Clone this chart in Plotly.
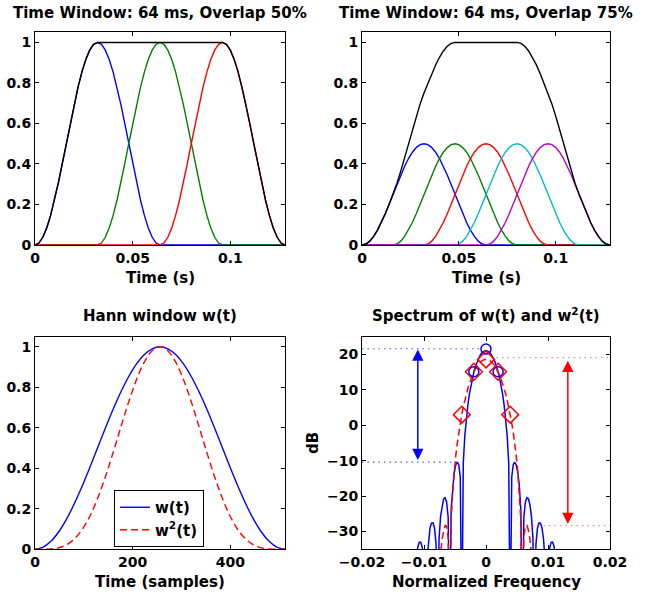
import plotly.graph_objects as go

# ---------------- data ----------------
# one 64 ms Hann window, sampled every 2 ms
hann_t = [0.000, 0.002, 0.004, 0.006, 0.008, 0.010, 0.012, 0.014, 0.016, 0.018, 0.020,
          0.022, 0.024, 0.026, 0.028, 0.030, 0.032, 0.034, 0.036, 0.038, 0.040, 0.042,
          0.044, 0.046, 0.048, 0.050, 0.052, 0.054, 0.056, 0.058, 0.060, 0.062, 0.064]
hann_w = [0.0, 0.0096, 0.0381, 0.0843, 0.1464, 0.2222, 0.3087, 0.4025, 0.5, 0.5975, 0.6913,
          0.7778, 0.8536, 0.9157, 0.9619, 0.9904, 1.0, 0.9904, 0.9619, 0.9157, 0.8536, 0.7778,
          0.6913, 0.5975, 0.5, 0.4025, 0.3087, 0.2222, 0.1464, 0.0843, 0.0381, 0.0096, 0.0]
t_end = 0.128

starts_50 = [0.0, 0.032, 0.064]
gain_50 = 1.0
colors_50 = ["#0000ff", "#008000", "#ff0000"]

starts_75 = [0.0, 0.016, 0.032, 0.048, 0.064]
gain_75 = 0.5
colors_75 = ["#0000ff", "#008000", "#ff0000", "#00bfbf", "#bf00bf"]

env50_t = [0.000, 0.002, 0.004, 0.006, 0.008, 0.010, 0.012, 0.014, 0.016, 0.018, 0.020,
           0.022, 0.024, 0.026, 0.028, 0.030, 0.032,
           0.096, 0.098, 0.100, 0.102, 0.104, 0.106, 0.108, 0.110, 0.112, 0.114, 0.116,
           0.118, 0.120, 0.122, 0.124, 0.126, 0.128]
env50_v = [0.0, 0.0096, 0.0381, 0.0843, 0.1464, 0.2222, 0.3087, 0.4025, 0.5, 0.5975, 0.6913,
           0.7778, 0.8536, 0.9157, 0.9619, 0.9904, 1.0,
           1.0, 0.9904, 0.9619, 0.9157, 0.8536, 0.7778, 0.6913, 0.5975, 0.5, 0.4025, 0.3087,
           0.2222, 0.1464, 0.0843, 0.0381, 0.0096, 0.0]

env75_t = [0.000, 0.002, 0.004, 0.006, 0.008, 0.010, 0.012, 0.014, 0.016, 0.018, 0.020,
           0.022, 0.024, 0.026, 0.028, 0.030, 0.032, 0.034, 0.036, 0.038, 0.040, 0.042,
           0.044, 0.046, 0.048,
           0.080, 0.082, 0.084, 0.086, 0.088, 0.090, 0.092, 0.094, 0.096, 0.098, 0.100,
           0.102, 0.104, 0.106, 0.108, 0.110, 0.112, 0.114, 0.116, 0.118, 0.120, 0.122,
           0.124, 0.126, 0.128]
env75_v = [0.0, 0.0048, 0.0191, 0.0422, 0.0732, 0.1111, 0.1544, 0.2013, 0.25, 0.3036, 0.3647,
           0.4311, 0.5, 0.5690, 0.6353, 0.6965, 0.75, 0.7988, 0.8457, 0.8889, 0.9268, 0.9579,
           0.9810, 0.9952, 1.0,
           1.0, 0.9952, 0.9810, 0.9579, 0.9268, 0.8889, 0.8457, 0.7988, 0.75, 0.6965, 0.6353,
           0.5690, 0.5, 0.4311, 0.3647, 0.3036, 0.25, 0.2013, 0.1544, 0.1111, 0.0732, 0.0422,
           0.0191, 0.0048, 0.0]

# Hann window over 512 samples
samples = [0, 16, 32, 48, 64, 80, 96, 112, 128, 144, 160, 176, 192, 208, 224, 240, 256,
           272, 288, 304, 320, 336, 352, 368, 384, 400, 416, 432, 448, 464, 480, 496, 512]
w_vals = hann_w
w2_vals = [0.0, 0.0001, 0.0015, 0.0071, 0.0214, 0.0494, 0.0953, 0.1620, 0.25, 0.3570, 0.4779,
           0.6050, 0.7286, 0.8385, 0.9253, 0.9809, 1.0, 0.9809, 0.9253, 0.8385, 0.7286, 0.6050,
           0.4779, 0.3570, 0.25, 0.1620, 0.0953, 0.0494, 0.0214, 0.0071, 0.0015, 0.0001, 0.0]

# spectra (dB) against DFT bin of a 512-point frame
fft_len = 512
spec_bins_w = [-6.0, -5.875, -5.75, -5.625, -5.5, -5.375, -5.25, -5.125, -5.0, -4.875, -4.75,
               -4.625, -4.5, -4.375, -4.25, -4.125, -4.0, -3.875, -3.75, -3.625, -3.5, -3.375,
               -3.25, -3.125, -3.0, -2.875, -2.75, -2.625, -2.5, -2.375, -2.25, -2.125, -2.0,
               -1.875, -1.75, -1.625, -1.5, -1.375, -1.25, -1.125, -1.0, -0.875, -0.75, -0.625,
               -0.5, -0.375, -0.25, -0.125, 0.0, 0.125, 0.25, 0.375, 0.5, 0.625, 0.75, 0.875,
               1.0, 1.125, 1.25, 1.375, 1.5, 1.625, 1.75, 1.875, 2.0, 2.125, 2.25, 2.375, 2.5,
               2.625, 2.75, 2.875, 3.0, 3.125, 3.25, 3.375, 3.5, 3.625, 3.75, 3.875, 4.0, 4.125,
               4.25, 4.375, 4.5, 4.625, 4.75, 4.875, 5.0, 5.125, 5.25, 5.375, 5.5, 5.625, 5.75,
               5.875, 6.0]
spec_db_w = [-60, -43.07, -37.17, -34.26, -32.97, -33.05, -34.74, -39.43, -60, -38.09, -32.06,
             -29.02, -27.60, -27.52, -29.06, -33.59, -60, -31.88, -25.65, -22.40, -20.75, -20.43,
             -21.70, -25.94, -60, -23.58, -16.98, -13.32, -11.21, -10.38, -11.07, -14.65, -60,
             -10.66, -3.00, 1.95, 5.70, 8.71, 11.21, 13.31, 15.08, 16.58, 17.83, 18.85,
             19.68, 20.30, 20.75, 21.01, 21.10, 21.01, 20.75, 20.30, 19.68, 18.85, 17.83, 16.58,
             15.08, 13.31, 11.21, 8.71, 5.70, 1.95, -3.00, -10.66, -60, -14.65, -11.07, -10.38,
             -11.21, -13.32, -16.98, -23.58, -60, -25.94, -21.70, -20.43, -20.75, -22.40, -25.65,
             -31.88, -60, -33.59, -29.06, -27.52, -27.60, -29.02, -32.06, -38.09, -60, -39.43,
             -34.74, -33.05, -32.97, -34.26, -37.17, -43.07, -60]

spec_bins_w2 = [-4.0, -3.875, -3.75, -3.625, -3.5, -3.375, -3.25, -3.125, -3.0, -2.875, -2.75,
                -2.625, -2.5, -2.375, -2.25, -2.125, -2.0, -1.875, -1.75, -1.625, -1.5, -1.375,
                -1.25, -1.125, -1.0, -0.875, -0.75, -0.625, -0.5, -0.375, -0.25, -0.125, 0.0,
                0.125, 0.25, 0.375, 0.5, 0.625, 0.75, 0.875, 1.0, 1.125, 1.25, 1.375, 1.5,
                1.625, 1.75, 1.875, 2.0, 2.125, 2.25, 2.375, 2.5, 2.625, 2.75, 2.875, 3.0,
                3.125, 3.25, 3.375, 3.5, 3.625, 3.75, 3.875, 4.0]
spec_db_w2 = [-60, -43.18, -36.17, -32.08, -29.54, -28.26, -28.50, -31.61, -60, -26.64, -18.48,
              -13.00, -8.71, -5.13, -2.06, 0.64, 3.04, 5.18, 7.10, 8.83, 10.38, 11.77, 13.01,
              14.11, 15.08, 15.92, 16.64, 17.25, 17.74, 18.12, 18.39, 18.55, 18.60, 18.55, 18.39,
              18.12, 17.74, 17.25, 16.64, 15.92, 15.08, 14.11, 13.01, 11.77, 10.38, 8.83, 7.10,
              5.18, 3.04, 0.64, -2.06, -5.13, -8.71, -13.00, -18.48, -26.64, -60, -31.61, -28.50,
              -28.26, -29.54, -32.08, -36.17, -43.18, -60]

circle_bins = [-1, 0, 1]
circle_db = [15.1, 21.5, 15.1]
diamond_bins = [-2, -1, 0, 1, 2]
diamond_db = [3.0, 15.1, 18.6, 15.1, 3.0]

# reference levels (dB) and their horizontal extents (normalised frequency)
blue_levels = [21.6, -10.4]
blue_level_x = [[-0.02, -0.0005], [-0.02, -0.0044]]
red_levels = [19.1, -28.3]
red_level_x = [[0.0017, 0.02], [0.0066, 0.02]]
blue_arrow = {"f": -0.011, "top": 21.4, "bottom": -10.2}
red_arrow = {"f": 0.0132, "top": 18.2, "bottom": -28.3}

# ---------------- figure ----------------
W, H = 659, 599
FONT = "DejaVu Sans"


def px_x(a, b):
    return [a / W, b / W]


def px_y(top, bottom):
    return [1 - bottom / H, 1 - top / H]


fig = go.Figure()

# top-left: 50 % overlap
for s, c in zip(starts_50, colors_50):
    fig.add_trace(go.Scatter(
        x=[0.0] + [s + t for t in hann_t] + [t_end],
        y=[0.0] + [gain_50 * v for v in hann_w] + [0.0],
        mode="lines", line=dict(color=c, width=1.4), xaxis="x", yaxis="y", showlegend=False))
fig.add_trace(go.Scatter(x=env50_t, y=env50_v, mode="lines", line=dict(color="black", width=1.4),
                         xaxis="x", yaxis="y", showlegend=False))

# top-right: 75 % overlap
for s, c in zip(starts_75, colors_75):
    fig.add_trace(go.Scatter(
        x=[0.0] + [s + t for t in hann_t] + [t_end],
        y=[0.0] + [gain_75 * v for v in hann_w] + [0.0],
        mode="lines", line=dict(color=c, width=1.4), xaxis="x2", yaxis="y2", showlegend=False))
fig.add_trace(go.Scatter(x=env75_t, y=env75_v, mode="lines", line=dict(color="black", width=1.4),
                         xaxis="x2", yaxis="y2", showlegend=False))

# bottom-left: Hann window and its square
fig.add_trace(go.Scatter(x=samples, y=w_vals, mode="lines", line=dict(color="#0000ff", width=1.4, shape="spline"),
                         xaxis="x3", yaxis="y3", name="w(t)", showlegend=True))
fig.add_trace(go.Scatter(x=samples, y=w2_vals, mode="lines",
                         line=dict(color="#ff0000", width=1.4, dash="7px,4px", shape="spline"),
                         xaxis="x3", yaxis="y3", name="w<sup>2</sup>(t)", showlegend=True))

# bottom-right: spectra
fig.add_trace(go.Scatter(x=[b / fft_len for b in spec_bins_w], y=spec_db_w, mode="lines",
                         line=dict(color="#0000ff", width=1.5), xaxis="x4", yaxis="y4", showlegend=False))
fig.add_trace(go.Scatter(x=[b / fft_len for b in spec_bins_w2], y=spec_db_w2, mode="lines",
                         line=dict(color="#ff0000", width=1.5, dash="7px,4px"),
                         xaxis="x4", yaxis="y4", showlegend=False))
fig.add_trace(go.Scatter(x=[b / fft_len for b in circle_bins], y=circle_db, mode="markers",
                         marker=dict(symbol="circle-open", size=10, color="#0000ff", line=dict(width=1.5, color="#0000ff")),
                         xaxis="x4", yaxis="y4", showlegend=False))
fig.add_trace(go.Scatter(x=[b / fft_len for b in diamond_bins], y=diamond_db, mode="markers",
                         marker=dict(symbol="diamond-open", size=13, color="#ff0000", line=dict(width=1.5, color="#ff0000")),
                         xaxis="x4", yaxis="y4", showlegend=False))
for lev, xs in zip(blue_levels, blue_level_x):
    fig.add_trace(go.Scatter(x=xs, y=[lev, lev], mode="lines",
                             line=dict(color="rgba(40,40,255,0.8)", width=1.2, dash="1.5px,4px"),
                             xaxis="x4", yaxis="y4", showlegend=False))
for lev, xs in zip(red_levels, red_level_x):
    fig.add_trace(go.Scatter(x=xs, y=[lev, lev], mode="lines",
                             line=dict(color="rgba(255,60,60,0.6)", width=1.2, dash="1.5px,4px"),
                             xaxis="x4", yaxis="y4", showlegend=False))

tickfont = dict(family=FONT, size=14, color="black", weight="bold")
axis_common = dict(showline=True, linecolor="black", linewidth=1, mirror="ticks", ticks="inside",
                   ticklen=4, tickcolor="black", tickwidth=1, showgrid=False, zeroline=False,
                   tickfont=tickfont, fixedrange=True, automargin=False)

ytick01 = dict(tickvals=[0, 0.2, 0.4, 0.6, 0.8, 1.0], ticktext=["0", "0.2", "0.4", "0.6", "0.8", "1"])
xtick_t = dict(tickvals=[0, 0.05, 0.1], ticktext=["0", "0.05", "0.1"])

fig.update_layout(
    width=W, height=H, margin=dict(l=0, r=0, t=0, b=0, autoexpand=False),
    paper_bgcolor="white", plot_bgcolor="white",
    font=dict(family=FONT, size=15, color="black", weight="bold"),
    xaxis=dict(domain=px_x(35, 285), range=[0, t_end], anchor="y", **xtick_t, **axis_common),
    yaxis=dict(domain=px_y(32.3, 245), range=[0, 1.05], anchor="x", **ytick01, **axis_common),
    xaxis2=dict(domain=px_x(362, 610), range=[0, t_end], anchor="y2", **xtick_t, **axis_common),
    yaxis2=dict(domain=px_y(32.3, 245), range=[0, 1.05], anchor="x2", **ytick01, **axis_common),
    xaxis3=dict(domain=px_x(35, 285), range=[0, 512], anchor="y3", tickvals=[0, 200, 400],
                ticktext=["0", "200", "400"], **axis_common),
    yaxis3=dict(domain=px_y(336.7, 549.3), range=[0, 1.05], anchor="x3", **ytick01, **axis_common),
    xaxis4=dict(domain=px_x(362, 610), range=[-0.02, 0.02], anchor="y4",
                tickvals=[-0.02, -0.01, 0, 0.01, 0.02],
                ticktext=["\u22120.02", "\u22120.01", "0", "0.01", "0.02"], **axis_common),
    yaxis4=dict(domain=px_y(336.7, 549.3), range=[-35, 25], anchor="x4",
                tickvals=[-30, -20, -10, 0, 10, 20],
                ticktext=["\u221230", "\u221220", "\u221210", "0", "10", "20"], **axis_common),
    legend=dict(x=114 / W, y=1 - 490 / H, xanchor="left", yanchor="top",
                bordercolor="black", borderwidth=1, bgcolor="white",
                font=dict(family=FONT, size=15, color="black", weight="bold"),
                tracegroupgap=0, itemwidth=30),
)

ann = []


def label(text, x, y, size=15, angle=0):
    ann.append(dict(text=text, x=x / W, y=1 - y / H, xref="paper", yref="paper",
                    showarrow=False, xanchor="center", yanchor="middle", textangle=angle,
                    font=dict(family=FONT, size=size, color="black", weight="bold")))


label("Time Window: 64 ms, Overlap 50%", 160, 12.5)
label("Time Window: 64 ms, Overlap 75%", 486, 12.5)
label("Hann window w(t)", 160, 316)
label("Spectrum of w(t) and w<sup>2</sup>(t)", 486, 315)
label("Time (s)", 160, 278)
label("Time (s)", 486, 278)
label("Time (samples)", 160, 582)
label("Normalized Frequency", 486, 582)
label("dB", 313, 443, angle=-90)

for arr, col in ((blue_arrow, "#0000ff"), (red_arrow, "#ff0000")):
    ann.append(dict(x=arr["f"], y=arr["top"], ax=arr["f"], ay=arr["bottom"],
                    xref="x4", yref="y4", axref="x4", ayref="y4", text="",
                    showarrow=True, arrowside="end+start", arrowhead=2, startarrowhead=2,
                    arrowsize=1.5, startarrowsize=1.5, arrowwidth=1.5, arrowcolor=col,
                    standoff=0, startstandoff=0))

fig.update_layout(annotations=ann)
fig.write_html("out.html", config={"displayModeBar": False, "staticPlot": True},
               post_script="document.body.style.margin='0px';document.body.style.overflow='hidden';")
